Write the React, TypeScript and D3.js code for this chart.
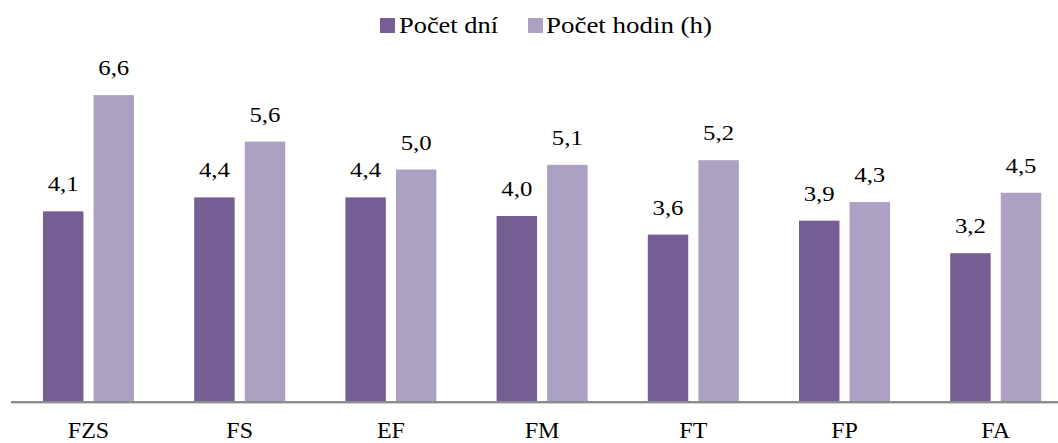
import React from "react";
import * as d3 from "d3";

const categories = ["FZS", "FS", "EF", "FM", "FT", "FP", "FA"];
const seriesNames = ["Počet dní", "Počet hodin (h)"];
const days = [4.1, 4.4, 4.4, 4.0, 3.6, 3.9, 3.2];
const hours = [6.6, 5.6, 5.0, 5.1, 5.2, 4.3, 4.5];
const colors = ["#765E95", "#ADA1C3"];

const W = 1058;
const H = 443;
const font = "Liberation Serif, DejaVu Serif, Times New Roman, serif";

export default function App() {
  const baseline = 402;
  const y = d3.scaleLinear().domain([0, 7]).range([baseline, baseline - 7 * 46.5]);
  const x0 = d3
    .scaleBand<string>()
    .domain(categories)
    .range([-17.2, 1101.4])
    .paddingInner(0.398)
    .paddingOuter(0.398);
  const x1 = d3
    .scaleBand<string>()
    .domain(["d", "h"])
    .range([0, x0.bandwidth()])
    .paddingInner(0.2);
  const fmt = (v: number) => v.toFixed(1).replace(".", ",");

  const series = [
    { key: "d", values: days, color: colors[0] },
    { key: "h", values: hours, color: colors[1] },
  ];

  return (
    <svg
      width={W}
      height={H}
      style={{ position: "absolute", left: 0, top: 0, background: "#fff", fontFamily: font }}
    >
      {/* legend */}
      <g>
        <rect x={380} y={18} width={15} height={15} fill={colors[0]} />
        <text
          x={399}
          y={33}
          fontSize={23}
          fill="#000"
          textLength={99}
          lengthAdjust="spacingAndGlyphs"
          style={{ fontFamily: font }}
        >
          {seriesNames[0]}
        </text>
        <rect x={528} y={18} width={15} height={15} fill={colors[1]} />
        <text
          x={546}
          y={33}
          fontSize={23}
          fill="#000"
          textLength={166}
          lengthAdjust="spacingAndGlyphs"
          style={{ fontFamily: font }}
        >
          {seriesNames[1]}
        </text>
      </g>
      {/* bars */}
      {categories.map((c, i) => (
        <g key={c} transform={`translate(${x0(c)},0)`}>
          {series.map((s) => {
            const v = s.values[i];
            const bx = x1(s.key)!;
            const bw = x1.bandwidth();
            return (
              <g key={s.key}>
                <rect x={bx} y={y(v)} width={bw} height={baseline - y(v)} fill={s.color} />
                <text
                  x={bx + bw / 2}
                  y={y(v) - 20}
                  fontSize={21}
                  textAnchor="middle"
                  fill="#000"
                  textLength={31}
                  lengthAdjust="spacingAndGlyphs"
                  style={{ fontFamily: font }}
                >
                  {fmt(v)}
                </text>
              </g>
            );
          })}
        </g>
      ))}
      {/* axis */}
      <line x1={11} x2={W} y1={baseline + 1.5} y2={baseline + 1.5} stroke="#D0D0D0" strokeWidth={1} />
      <line x1={11} x2={W} y1={baseline} y2={baseline} stroke="#8C8C8C" strokeWidth={2} />
      {categories.map((c) => (
        <text
          key={c}
          x={x0(c)! + x0.bandwidth() / 2}
          y={438}
          fontSize={24}
          textAnchor="middle"
          fill="#000"
          style={{ fontFamily: font }}
        >
          {c}
        </text>
      ))}
    </svg>
  );
}
